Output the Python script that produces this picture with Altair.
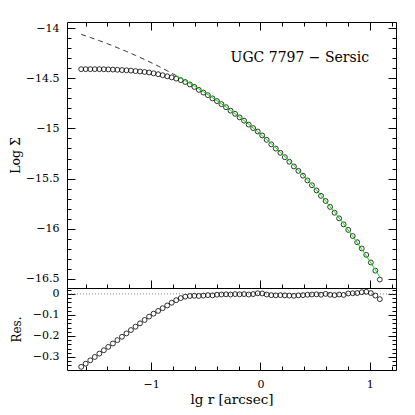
import altair as alt
import pandas as pd

# ---- data ----
lg_r = [-1.640, -1.599, -1.557, -1.516, -1.474, -1.433, -1.392, -1.350, -1.309, -1.267,
        -1.226, -1.185, -1.143, -1.102, -1.060, -1.019, -0.978, -0.936, -0.895, -0.853,
        -0.812, -0.771, -0.729, -0.688, -0.646, -0.605, -0.564, -0.522, -0.481, -0.439,
        -0.398, -0.357, -0.315, -0.274, -0.232, -0.191, -0.150, -0.108, -0.067, -0.025,
        0.016, 0.057, 0.099, 0.140, 0.182, 0.223, 0.264, 0.306, 0.347, 0.389,
        0.430, 0.471, 0.513, 0.554, 0.596, 0.637, 0.678, 0.720, 0.761, 0.803,
        0.844, 0.885, 0.927, 0.968, 1.010, 1.051, 1.092]

log_sigma = [-14.410, -14.410, -14.410, -14.410, -14.410, -14.411, -14.412, -14.414, -14.416, -14.419,
             -14.421, -14.424, -14.429, -14.433, -14.438, -14.443, -14.451, -14.460, -14.470, -14.481,
             -14.492, -14.504, -14.519, -14.538, -14.562, -14.587, -14.616, -14.643, -14.669, -14.701,
             -14.728, -14.758, -14.789, -14.823, -14.855, -14.890, -14.923, -14.962, -14.997, -15.031,
             -15.070, -15.114, -15.159, -15.201, -15.243, -15.287, -15.332, -15.379, -15.423, -15.471,
             -15.518, -15.566, -15.618, -15.672, -15.723, -15.782, -15.840, -15.896, -15.956, -16.011,
             -16.072, -16.134, -16.196, -16.260, -16.336, -16.417, -16.506]

sersic_model = [-14.063, -14.078, -14.094, -14.110, -14.126, -14.143, -14.160, -14.178, -14.196, -14.215,
                -14.233, -14.252, -14.273, -14.293, -14.314, -14.335, -14.357, -14.379, -14.402, -14.426,
                -14.450, -14.474, -14.499, -14.525, -14.552, -14.578, -14.606, -14.635, -14.663, -14.694,
                -14.724, -14.755, -14.787, -14.820, -14.854, -14.888, -14.922, -14.959, -14.996, -15.034,
                -15.072, -15.111, -15.153, -15.194, -15.237, -15.280, -15.324, -15.370, -15.416, -15.465,
                -15.514, -15.563, -15.616, -15.668, -15.723, -15.778, -15.834, -15.893, -15.951, -16.013,
                -16.075, -16.138, -16.204, -16.270, -16.340, -16.409, -16.481]

residual = [-0.347, -0.332, -0.316, -0.300, -0.284, -0.268, -0.252, -0.236, -0.220, -0.204,
            -0.188, -0.172, -0.156, -0.140, -0.124, -0.108, -0.094, -0.081, -0.068, -0.055,
            -0.042, -0.030, -0.020, -0.013, -0.010, -0.009, -0.010, -0.008, -0.006, -0.007,
            -0.004, -0.003, -0.002, -0.003, -0.001, -0.002, -0.001, -0.003, -0.001, 0.003,
            0.002, -0.003, -0.006, -0.007, -0.006, -0.007, -0.008, -0.009, -0.007, -0.006,
            -0.004, -0.003, -0.002, -0.004, 0.000, -0.004, -0.006, -0.003, -0.005, 0.002,
            0.003, 0.004, 0.008, 0.010, 0.004, -0.008, -0.025]

fit_start = -0.771  # model drawn dashed inside this radius, green outside

label_text = ["UGC 7797 \u2212 Sersic"]
label_x = [0.36]
label_y = [-14.30]

x_major = [-1, 0, 1]
x_minor = [-1.6, -1.4, -1.2, -0.8, -0.6, -0.4, -0.2, 0.2, 0.4, 0.6, 0.8, 1.2]
y_major = [-16.5, -16, -15.5, -15, -14.5, -14]
y_minor = [-16.4, -16.3, -16.2, -16.1, -15.9, -15.8, -15.7, -15.6, -15.4, -15.3, -15.2, -15.1,
           -14.9, -14.8, -14.7, -14.6, -14.4, -14.3, -14.2, -14.1]
r_major = [-0.3, -0.2, -0.1, 0]
r_minor = [-0.34, -0.32, -0.28, -0.26, -0.24, -0.22, -0.18, -0.16, -0.14, -0.12,
           -0.08, -0.06, -0.04, -0.02, 0.02]
zero_line = [0]

x_domain = [-1.77, 1.24]
y_domain = [-16.59, -13.94]
r_domain = [-0.362, 0.028]

FONT = "DejaVu Serif"

df = pd.DataFrame({"lgr": lg_r, "mu": log_sigma, "model": sersic_model, "res": residual})
df_dash = df[df["lgr"] <= fit_start + 1e-9]
df_fit = df[df["lgr"] >= fit_start - 1e-9]
df_lab = pd.DataFrame({"x": label_x, "y": label_y, "t": label_text})
df_zero = pd.DataFrame({"z": zero_line})

xs = alt.Scale(domain=x_domain, nice=False, zero=False)
ys = alt.Scale(domain=y_domain, nice=False, zero=False)
rs = alt.Scale(domain=r_domain, nice=False, zero=False)


def ax(orient, values, size, labels=False, title=None, pad=8, tpad=0, tsize=11.5):
    kw = dict(orient=orient, values=values, tickSize=size, offset=-size, labels=labels,
              domain=False, grid=False, tickColor="black", tickWidth=1)
    if labels:
        kw.update(format="~g", labelPadding=pad, labelFont=FONT, labelFontSize=11,
                  labelColor="black")
        if orient == "left":
            kw.update(labelAlign="right", labelBaseline="middle")
        else:
            kw.update(labelAlign="center", labelBaseline="top")
    if title:
        kw.update(title=title, titleFont=FONT, titleFontSize=tsize, titleFontWeight="normal",
                  titleColor="black", titlePadding=tpad)
    else:
        kw.update(title=None)
    return alt.Axis(**kw)


W = 329

# ---------- main panel ----------
m_pts = alt.Chart(df).mark_point(shape="circle", filled=False, size=24, color="black",
                                  strokeWidth=0.8, opacity=1).encode(
    x=alt.X("lgr:Q", scale=xs, axis=ax("bottom", x_major, 8)),
    y=alt.Y("mu:Q", scale=ys, axis=ax("left", y_major, 8, labels=True, title="Log \u03a3",
                                      pad=8, tpad=3, tsize=12.5)),
)
m_dash = alt.Chart(df_dash).mark_line(color="black", strokeWidth=0.8, strokeDash=[5, 4]).encode(
    x=alt.X("lgr:Q", scale=xs, axis=ax("bottom", x_minor, 4)),
    y=alt.Y("model:Q", scale=ys, axis=ax("left", y_minor, 4)),
)
m_fit = alt.Chart(df_fit).mark_line(color="#00e600", strokeWidth=1).encode(
    x=alt.X("lgr:Q", scale=xs, axis=ax("top", x_major, 8)),
    y=alt.Y("model:Q", scale=ys, axis=ax("right", y_major, 8)),
)
m_txt = alt.Chart(df_lab).mark_text(font=FONT, fontSize=14, color="black", align="center",
                                    baseline="middle").encode(
    x=alt.X("x:Q", scale=xs, axis=ax("top", x_minor, 4)),
    y=alt.Y("y:Q", scale=ys, axis=ax("right", y_minor, 4)),
    text="t:N",
)
main = alt.layer(m_pts, m_dash, m_fit, m_txt).resolve_axis(x="independent", y="independent").properties(
    width=W, height=266)

# ---------- residual panel ----------
r_zero = alt.Chart(df_zero).mark_rule(color="#888888", strokeWidth=1, strokeDash=[1, 2]).encode(
    y=alt.Y("z:Q", scale=rs, axis=None),
)
r_pts = alt.Chart(df).mark_point(shape="circle", filled=False, size=24, color="black",
                                  strokeWidth=0.8, opacity=1).encode(
    x=alt.X("lgr:Q", scale=xs, axis=ax("bottom", x_major, 8, labels=True, title="lg r [arcsec]",
                                       pad=8, tpad=3, tsize=13.5)),
    y=alt.Y("res:Q", scale=rs, axis=ax("left", r_major, 8, labels=True, title="Res.",
                                       pad=8, tpad=9, tsize=12)),
)
r_min = alt.Chart(df).mark_point(opacity=0).encode(
    x=alt.X("lgr:Q", scale=xs, axis=ax("bottom", x_minor, 4)),
    y=alt.Y("res:Q", scale=rs, axis=ax("left", r_minor, 4)),
)
r_rmaj = alt.Chart(df).mark_point(opacity=0).encode(
    x=alt.X("lgr:Q", scale=xs, axis=None),
    y=alt.Y("res:Q", scale=rs, axis=ax("right", r_major, 8)),
)
r_rmin = alt.Chart(df).mark_point(opacity=0).encode(
    x=alt.X("lgr:Q", scale=xs, axis=None),
    y=alt.Y("res:Q", scale=rs, axis=ax("right", r_minor, 4)),
)
resid = alt.layer(r_zero, r_pts, r_min, r_rmaj, r_rmin).resolve_axis(x="independent", y="independent").properties(
    width=W, height=82)

chart = alt.vconcat(main, resid, spacing=0, bounds="flush").properties(
    padding={"left": 0, "top": 13, "right": 5, "bottom": 5}
).configure_view(stroke="black", strokeWidth=1).configure_axis(grid=False)

chart.save("out.html", embed_options={"renderer": "svg", "actions": False})
